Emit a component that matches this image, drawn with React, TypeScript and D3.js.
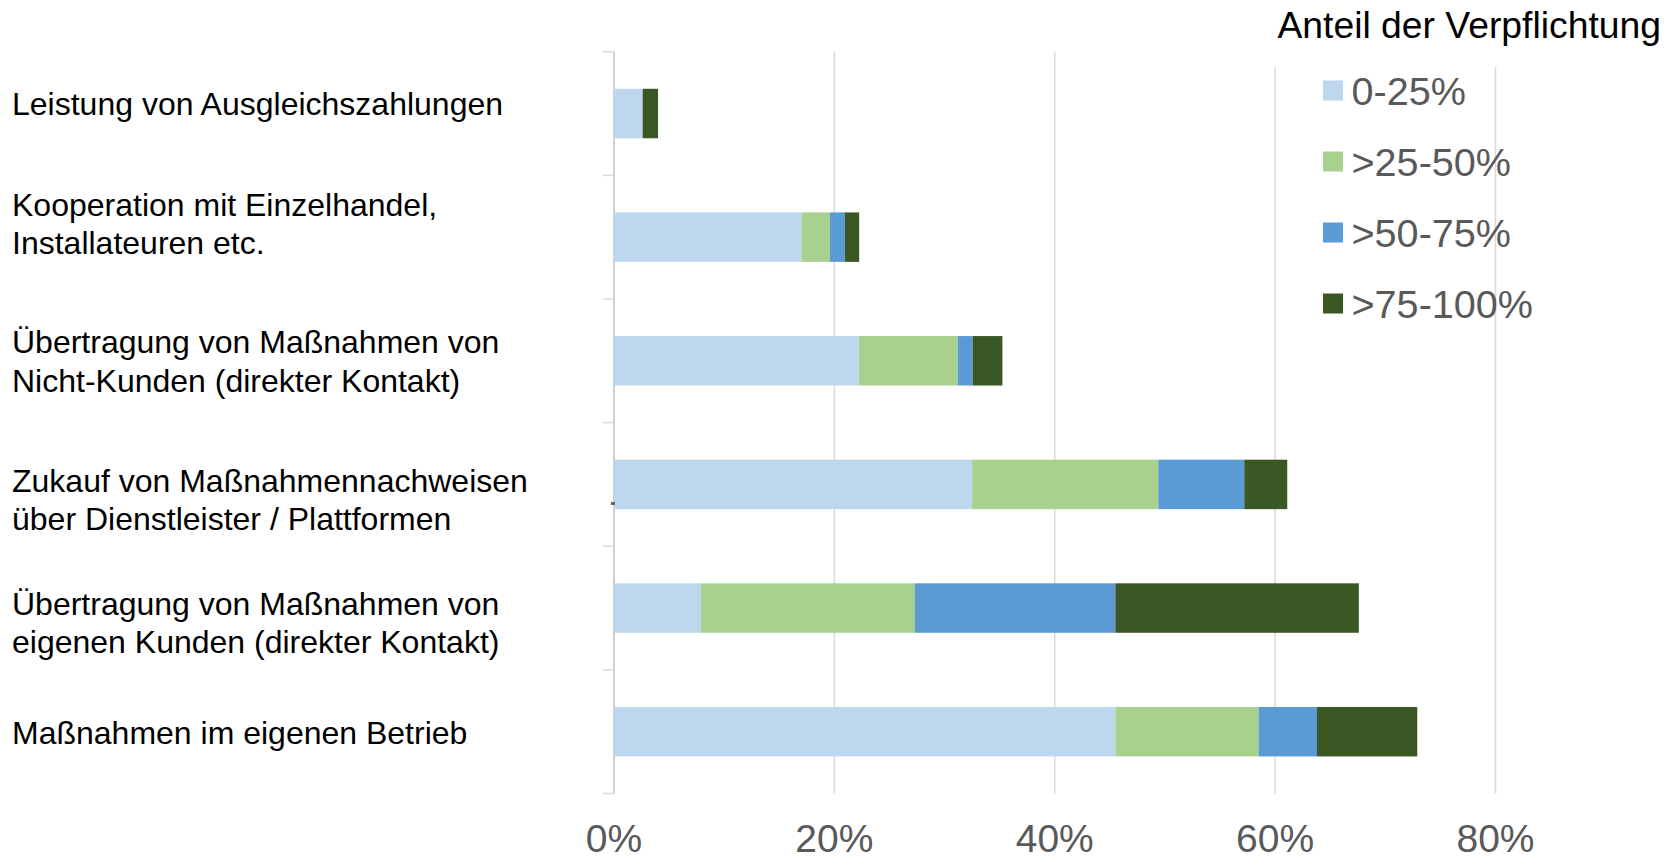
import React from "react";
import * as d3 from "d3";

const categories = [
  "Leistung von Ausgleichszahlungen",
  "Kooperation mit Einzelhandel, Installateuren etc.",
  "Übertragung von Maßnahmen von Nicht-Kunden (direkter Kontakt)",
  "Zukauf von Maßnahmennachweisen über Dienstleister / Plattformen",
  "Übertragung von Maßnahmen von eigenen Kunden (direkter Kontakt)",
  "Maßnahmen im eigenen Betrieb",
];

const labelLines = [
  ["Leistung von Ausgleichszahlungen"],
  ["Kooperation mit Einzelhandel,", "Installateuren etc."],
  ["Übertragung von Maßnahmen von", "Nicht-Kunden (direkter Kontakt)"],
  ["Zukauf von Maßnahmennachweisen", "über Dienstleister / Plattformen"],
  ["Übertragung von Maßnahmen von", "eigenen Kunden (direkter Kontakt)"],
  ["Maßnahmen im eigenen Betrieb"],
];

const seriesNames = ["0-25%", ">25-50%", ">50-75%", ">75-100%"];
const seriesColors = ["#BDD7EE", "#A9D18E", "#5B9BD5", "#3B5723"];

// values in percent
const s0to25 = [2.6, 17.0, 22.2, 32.5, 7.9, 45.5];
const s25to50 = [0, 2.6, 9.0, 16.9, 19.4, 13.0];
const s50to75 = [0, 1.35, 1.35, 7.8, 18.2, 5.3];
const s75to100 = [1.4, 1.3, 2.7, 3.9, 22.1, 9.1];

const xTicks = [0, 20, 40, 60, 80];
const xTickLabels = ["0%", "20%", "40%", "60%", "80%"];

// layout: first-line baseline offset of each category label from its band centre
const labelOffsets = [1.3, -21.3, -7.6, 7.2, 6.9, 12.3];

const W = 1677;
const H = 860;
const FONT = "'Liberation Sans', Arial, Helvetica, sans-serif";

export default function App() {
  const x = d3.scaleLinear().domain([0, 80]).range([614, 1495.5]);
  const y = d3
    .scaleBand<string>()
    .domain(categories)
    .range([51.7, 793.5])
    .paddingInner(0.6)
    .paddingOuter(0.3);

  const rows = categories.map((c, i) => ({
    cat: c,
    v0: s0to25[i],
    v1: s25to50[i],
    v2: s50to75[i],
    v3: s75to100[i],
  }));
  const stack = d3.stack<any>().keys(["v0", "v1", "v2", "v3"]);
  const stacked = stack(rows);

  const step = y.step();
  const bw = y.bandwidth();
  const boundaries = categories.map((c) => (y(c) as number) - (step - bw) / 2);
  boundaries.push(y.range()[1]);
  const top = y.range()[0];
  const bottom = y.range()[1];

  const legendY = d3.scalePoint<string>().domain(seriesNames).range([90.5, 303.5]);

  return (
    <div style={{ position: "absolute", left: 0, top: 0 }}>
      <svg width={W} height={H} style={{ display: "block", background: "#fff" }}>
        <rect x={0} y={0} width={W} height={H} fill="#fff" />
        {/* gridlines */}
        {xTicks.slice(1).map((t) => (
          <line
            key={t}
            x1={x(t)}
            x2={x(t)}
            y1={top}
            y2={bottom}
            stroke="#d9d9d9"
            strokeWidth={1.5}
          />
        ))}
        {/* axis */}
        <line x1={x(0)} x2={x(0)} y1={top} y2={bottom} stroke="#d0d0d0" strokeWidth={2} />
        {boundaries.map((b, i) => (
          <line key={i} x1={x(0) - 11} x2={x(0)} y1={b} y2={b} stroke="#d9d9d9" strokeWidth={1.5} />
        ))}
        {/* bars */}
        {stacked.map((layer, si) => (
          <g key={si} fill={seriesColors[si]}>
            {layer.map((d, i) =>
              d[1] - d[0] > 0 ? (
                <rect
                  key={i}
                  x={x(d[0])}
                  y={y(categories[i])}
                  width={x(d[1]) - x(d[0])}
                  height={bw}
                />
              ) : null
            )}
          </g>
        ))}
        {/* small artifact mark near axis */}
        <rect x={x(0) - 3} y={502} width={4} height={3} fill="#666" />
        {/* x tick labels */}
        {xTicks.map((t, i) => (
          <text
            key={t}
            x={x(t)}
            y={852}
            textAnchor="middle"
            fontFamily={FONT}
            fontSize={39}
            fill="#595959"
          >
            {xTickLabels[i]}
          </text>
        ))}
        {/* category labels */}
        {labelLines.map((lines, i) => {
          const cy = (y(categories[i]) as number) + bw / 2 + labelOffsets[i];
          return (
            <text key={i} fontFamily={FONT} fontSize={32} fill="#000">
              {lines.map((ln, j) => (
                <tspan key={j} x={12} y={cy + j * 38.5}>
                  {ln}
                </tspan>
              ))}
            </text>
          );
        })}
        {/* legend title area */}
        <rect x={1265} y={0} width={W - 1265} height={67} fill="#fff" />
        <text x={1661} y={38.3} textAnchor="end" fontFamily={FONT} fontSize={37.3} fill="#000">
          Anteil der Verpflichtung
        </text>
        {seriesNames.map((n, i) => {
          const cy = legendY(n) as number;
          return (
            <g key={n}>
              <rect x={1323} y={cy - 10} width={20} height={20} fill={seriesColors[i]} />
              <text x={1351.5} y={cy + 14} fontFamily={FONT} fontSize={39.6} fill="#595959">
                {n}
              </text>
            </g>
          );
        })}
      </svg>
    </div>
  );
}
